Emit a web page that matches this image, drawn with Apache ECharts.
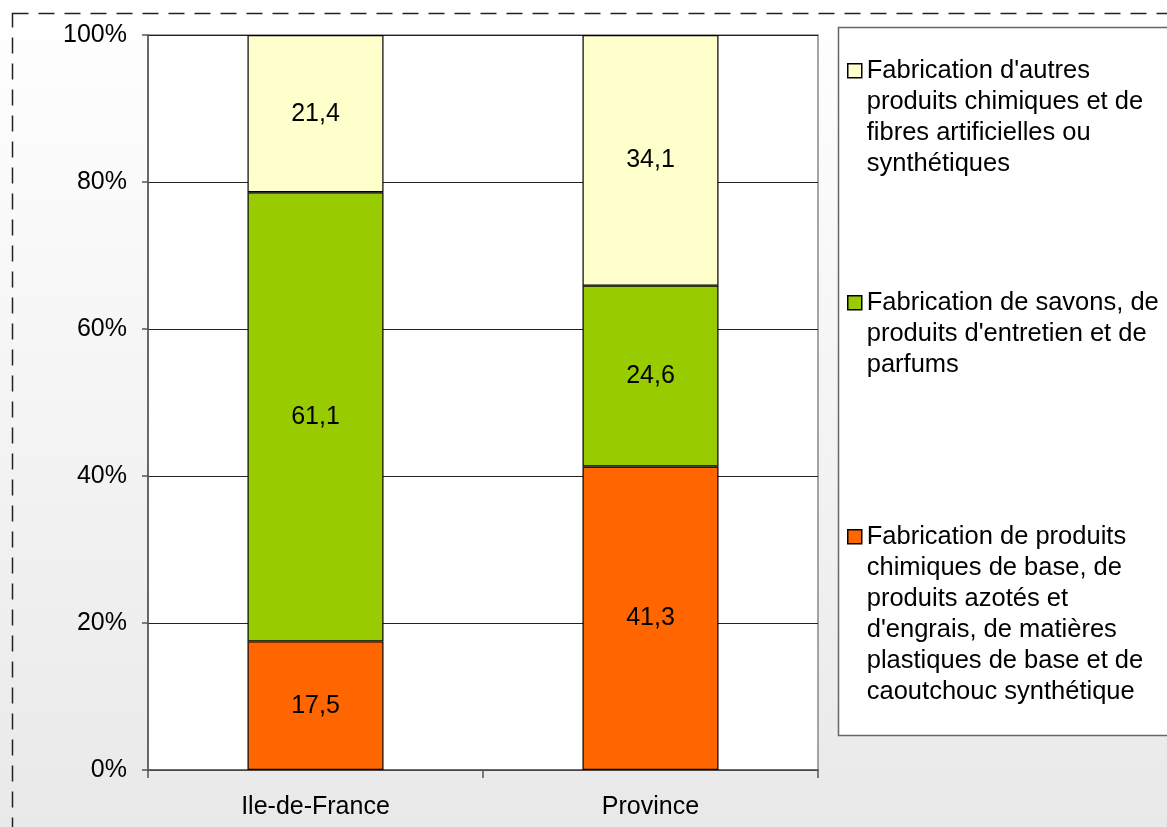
<!DOCTYPE html>
<html>
<head>
<meta charset="utf-8">
<script src="https://cdn.jsdelivr.net/npm/echarts@6/dist/echarts.min.js"></script>
<style>html,body{margin:0;padding:0;background:#fff}#c{width:1167px;height:827px}</style>
</head>
<body>
<div id="c"></div>
<script>
const categories = ['Ile-de-France', 'Province'];
const seriesNames = [
  'Fabrication de produits\nchimiques de base, de\nproduits azotés et\nd\'engrais, de matières\nplastiques de base et de\ncaoutchouc synthétique',
  'Fabrication de savons, de\nproduits d\'entretien et de\nparfums',
  'Fabrication d\'autres\nproduits chimiques et de\nfibres artificielles ou\nsynthétiques'
];
const baseChem = [17.5, 41.3];
const soaps = [61.1, 24.6];
const otherChem = [21.4, 34.1];
const yTicks = [0, 20, 40, 60, 80, 100];
const colors = ['#FF6600', '#99CC00', '#FFFFCC'];

const FONT = 'Liberation Sans, Arial, sans-serif';
const LH = 31;
const chart = echarts.init(document.getElementById('c'), null, {renderer: 'canvas'});

function mkSeries(name, data, color) {
  return {
    name: name, type: 'bar', stack: 'total', data: data,
    barWidth: '40.6%',
    itemStyle: {color: color, borderColor: '#000', borderWidth: 1.2},
    label: {
      show: true, position: 'inside', color: '#000', fontSize: 25, fontFamily: FONT,
      formatter: p => p.value.toFixed(1).replace('.', ',')
    },
    emphasis: {disabled: true}
  };
}
function mkLegend(name, iconCenterY) {
  const n = name.split('\n').length;
  const h = n * LH;
  const sq = 14, off = (LH - sq) / 2;
  return {
    data: [name], orient: 'vertical', left: 847, top: iconCenterY - LH / 2,
    padding: 0, itemWidth: sq, itemHeight: h, itemGap: 0,
    icon: 'path://M0,' + off + 'H' + sq + 'V' + (off + sq) + 'H0Z M0,0 M0,' + h,
    itemStyle: {borderColor: '#000', borderWidth: 1.5},
    selectedMode: false,
    textStyle: {fontSize: 25.5, fontFamily: FONT, color: '#000', lineHeight: LH}
  };
}

chart.setOption({
  animation: false,
  backgroundColor: {type: 'linear', x: 0, y: 0, x2: 0, y2: 1,
    colorStops: [{offset: 0, color: '#ffffff'}, {offset: 1, color: '#e9e9e9'}]},
  color: colors,
  graphic: [
    {type: 'rect', z: -10, shape: {x: 12.5, y: 13.5, width: 1200, height: 900},
      style: {fill: 'none', stroke: '#222', lineWidth: 1.5, lineDash: [16, 10]}},
    {type: 'rect', z: 0, shape: {x: 838.5, y: 27.5, width: 360, height: 708},
      style: {fill: '#fff', stroke: '#666', lineWidth: 1.5}}
  ],
  legend: [
    mkLegend(seriesNames[2], 70),
    mkLegend(seriesNames[1], 302),
    mkLegend(seriesNames[0], 536)
  ],
  grid: {left: 148, right: 349, top: 35, bottom: 57, show: true,
    backgroundColor: '#fff', borderColor: '#888', borderWidth: 1.5},
  xAxis: {
    type: 'category', data: categories, boundaryGap: true,
    axisLine: {lineStyle: {color: '#555', width: 1.5}},
    axisTick: {show: true, alignWithLabel: false, length: 8, lineStyle: {color: '#555', width: 1.5}},
    axisLabel: {fontSize: 25, fontFamily: FONT, color: '#000', margin: 25}
  },
  yAxis: {
    type: 'value', min: yTicks[0], max: yTicks[yTicks.length - 1], interval: yTicks[1] - yTicks[0],
    axisLine: {show: true, lineStyle: {color: '#555', width: 1.5}},
    axisTick: {show: true, length: 6, lineStyle: {color: '#555', width: 1.5}},
    axisLabel: {fontSize: 25, fontFamily: FONT, color: '#000', margin: 21, formatter: '{value}%'},
    splitLine: {show: true, lineStyle: {color: '#222', width: 1}}
  },
  series: [
    mkSeries(seriesNames[0], baseChem, colors[0]),
    mkSeries(seriesNames[1], soaps, colors[1]),
    mkSeries(seriesNames[2], otherChem, colors[2])
  ]
});
</script>
</body>
</html>
